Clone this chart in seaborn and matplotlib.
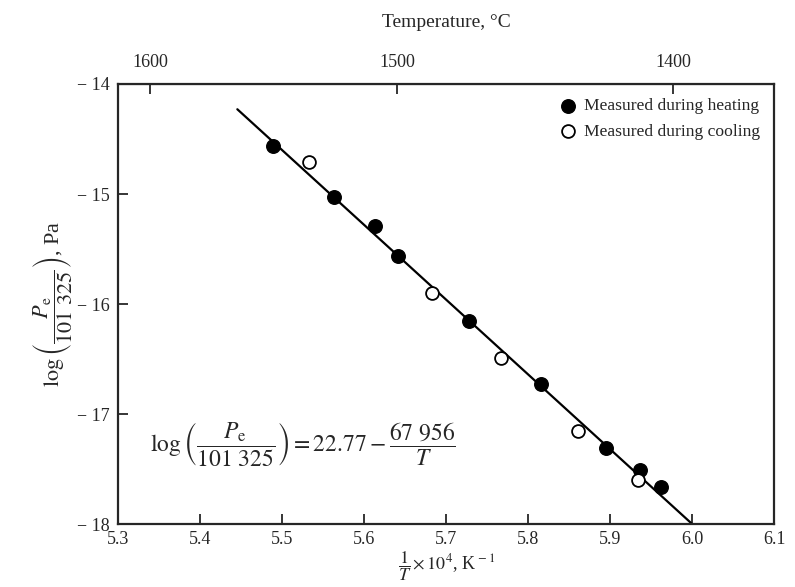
import numpy as np
import pandas as pd
import seaborn as sns
import matplotlib.pyplot as plt
from matplotlib.ticker import FixedLocator, FuncFormatter

# values (x = 1/T * 1e4, y = log(Pe/101325))
heating_x = [5.489, 5.563, 5.613, 5.641, 5.728, 5.816, 5.895, 5.936, 5.962]
heating_y = [-14.56, -15.03, -15.29, -15.56, -16.15, -16.73, -17.31, -17.51, -17.66]
cooling_x = [5.533, 5.683, 5.767, 5.861, 5.934]
cooling_y = [-14.71, -15.90, -16.49, -17.15, -17.60]
fit_x = [5.445, 6.0]
fit_y = [-14.23, -18.0]
x_ticks = [5.3, 5.4, 5.5, 5.6, 5.7, 5.8, 5.9, 6.0, 6.1]
y_ticks = [-14, -15, -16, -17, -18]
temp_ticks = [1600, 1500, 1400]

sns.set_style('ticks')
plt.rcParams['font.family'] = ['Liberation Serif', 'DejaVu Serif']
plt.rcParams['mathtext.fontset'] = 'stix'

heat = pd.DataFrame({'x': heating_x, 'y': heating_y})
cool = pd.DataFrame({'x': cooling_x, 'y': cooling_y})
fit = pd.DataFrame({'x': fit_x, 'y': fit_y})

fig, ax = plt.subplots(figsize=(7.95, 5.87), dpi=100)
fig.subplots_adjust(left=0.149, right=0.974, top=0.857, bottom=0.107)

sns.lineplot(data=fit, x='x', y='y', ax=ax, color='black', linewidth=1.6, zorder=1)
sns.scatterplot(data=heat, x='x', y='y', ax=ax, color='black', edgecolor='black',
                s=95, linewidth=1, label='Measured during heating', zorder=3)
sns.scatterplot(data=cool, x='x', y='y', ax=ax, color='white', edgecolor='black',
                s=85, linewidth=1.3, label='Measured during cooling', zorder=3)

ax.set_xlim(5.3, 6.1)
ax.set_ylim(-18, -14)
ax.xaxis.set_major_locator(FixedLocator(x_ticks))
ax.yaxis.set_major_locator(FixedLocator(y_ticks))
ax.xaxis.set_major_formatter(FuncFormatter(lambda v, p: f'{v:.1f}'))
ax.yaxis.set_major_formatter(FuncFormatter(lambda v, p: f'\u2212 {abs(v):.0f}'))
ax.tick_params(axis='both', direction='in', length=7, width=1.3, labelsize=13)
ax.tick_params(axis='x', pad=5)
ax.tick_params(axis='y', pad=6)
for sp in ax.spines.values():
    sp.set_linewidth(1.6)
    sp.set_visible(True)

ax.set_xlabel(r'$\dfrac{1}{T}\times 10^4$, K$^{\,-1}$', fontsize=13, labelpad=1)
ax.set_ylabel(r'$\log\left(\dfrac{P_\mathrm{e}}{101\ 325}\right)$, Pa', fontsize=16, labelpad=2)

# top axis in degrees Celsius
top = ax.secondary_xaxis('top', functions=(lambda x: 1e4 / np.asarray(x, dtype=float) - 273.15,
                                           lambda t: 1e4 / (np.asarray(t, dtype=float) + 273.15)))
top.xaxis.set_major_locator(FixedLocator(temp_ticks))
top.xaxis.set_major_formatter(FuncFormatter(lambda v, p: f'{v:.0f}'))
top.tick_params(direction='in', length=7, width=1.3, labelsize=13, pad=9)
top.set_xlabel('Temperature, °C', fontsize=14, labelpad=20)

ax.text(5.338, -17.28,
        r'$\log\left(\dfrac{P_\mathrm{e}}{101\ 325}\right) = 22.77 - \dfrac{67\ 956}{T}$',
        fontsize=17, va='center', ha='left')

ax.legend(loc='upper right', bbox_to_anchor=(1.0, 1.0), frameon=False, fontsize=12.6,
          handlelength=1.0, handletextpad=0.45, labelspacing=0.55, borderaxespad=0.4)

fig.savefig('out.png', dpi=100)
